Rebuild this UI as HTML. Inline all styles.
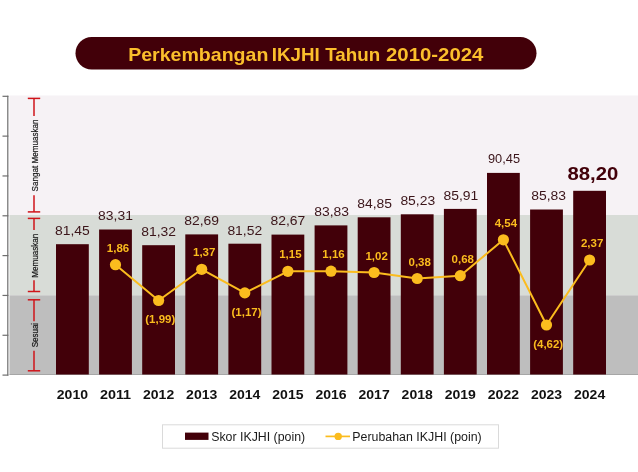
<!DOCTYPE html>
<html><head><meta charset="utf-8"><title>Perkembangan IKJHI Tahun 2010-2024</title>
<style>
html,body{margin:0;padding:0;background:#fff;}
body{width:638px;height:472px;overflow:hidden;}
svg{display:block;font-family:"Liberation Sans",sans-serif;}
</style></head><body>
<svg width="638" height="472" viewBox="0 0 638 472">
<rect width="638" height="472" fill="#ffffff"/>
<rect x="75.5" y="37" width="461" height="32.4" rx="16.2" fill="#420009"/>
<g font-size="19" font-weight="bold" fill="#fbbf2c">
<text x="128.2" y="60.9" textLength="140.2" lengthAdjust="spacingAndGlyphs">Perkembangan</text>
<text x="271.8" y="60.9" textLength="48" lengthAdjust="spacingAndGlyphs">IKJHI</text>
<text x="325.2" y="60.9" textLength="55" lengthAdjust="spacingAndGlyphs">Tahun</text>
<text x="386" y="60.9" textLength="97.4" lengthAdjust="spacingAndGlyphs">2010-2024</text>
</g>
<rect x="9.5" y="95.5" width="629" height="120" fill="#f6f2f5"/>
<rect x="9.5" y="215" width="629" height="80.3" fill="#d8dcd7"/>
<rect x="9.5" y="295.3" width="629" height="79.4" fill="#bebebe"/>
<rect x="9.5" y="374" width="629" height="1" fill="#a6a6a6"/>

<g stroke="#6e6e6e" stroke-width="1.2" fill="none">
<line x1="7.8" y1="95.8" x2="7.8" y2="375.6"/>
<line x1="2.5" y1="96.30" x2="8.4" y2="96.30"/>
<line x1="2.5" y1="136.13" x2="8.4" y2="136.13"/>
<line x1="2.5" y1="175.96" x2="8.4" y2="175.96"/>
<line x1="2.5" y1="215.79" x2="8.4" y2="215.79"/>
<line x1="2.5" y1="255.61" x2="8.4" y2="255.61"/>
<line x1="2.5" y1="295.44" x2="8.4" y2="295.44"/>
<line x1="2.5" y1="335.27" x2="8.4" y2="335.27"/>
<line x1="2.5" y1="375.10" x2="8.4" y2="375.10"/>
</g>
<rect x="56.0" y="244.2" width="32.8" height="130.3" fill="#420009"/>
<rect x="99.1" y="229.5" width="32.8" height="145.0" fill="#420009"/>
<rect x="142.2" y="245.2" width="32.8" height="129.3" fill="#420009"/>
<rect x="185.3" y="234.4" width="32.8" height="140.1" fill="#420009"/>
<rect x="228.4" y="243.7" width="32.8" height="130.8" fill="#420009"/>
<rect x="271.5" y="234.6" width="32.8" height="139.9" fill="#420009"/>
<rect x="314.6" y="225.4" width="32.8" height="149.1" fill="#420009"/>
<rect x="357.7" y="217.3" width="32.8" height="157.2" fill="#420009"/>
<rect x="400.8" y="214.3" width="32.8" height="160.2" fill="#420009"/>
<rect x="443.9" y="208.9" width="32.8" height="165.6" fill="#420009"/>
<rect x="487.0" y="172.9" width="32.8" height="201.6" fill="#420009"/>
<rect x="530.1" y="209.5" width="32.8" height="165.0" fill="#420009"/>
<rect x="573.2" y="190.8" width="32.8" height="183.7" fill="#420009"/>
<g stroke="#cf141a" stroke-width="1.5" fill="none"><line x1="27.8" y1="98.4" x2="40.2" y2="98.4"/><line x1="27.8" y1="211.9" x2="40.2" y2="211.9"/><line x1="34" y1="98.4" x2="34" y2="115.9"/><line x1="34" y1="195.2" x2="34" y2="211.9"/></g>
<g stroke="#cf141a" stroke-width="1.5" fill="none"><line x1="27.8" y1="218.4" x2="40.2" y2="218.4"/><line x1="27.8" y1="291.5" x2="40.2" y2="291.5"/><line x1="34" y1="218.4" x2="34" y2="230.0"/><line x1="34" y1="280.3" x2="34" y2="291.5"/></g>
<g stroke="#cf141a" stroke-width="1.5" fill="none"><line x1="27.8" y1="299.8" x2="40.2" y2="299.8"/><line x1="27.8" y1="370.8" x2="40.2" y2="370.8"/><line x1="34" y1="299.8" x2="34" y2="321.2"/><line x1="34" y1="350.8" x2="34" y2="370.8"/></g>
<text transform="translate(37.6,155.5) rotate(-90)" font-size="8.8" fill="#151515" stroke="#151515" stroke-width="0.2" text-anchor="middle" textLength="72" lengthAdjust="spacingAndGlyphs">Sangat Memuaskan</text>
<text transform="translate(37.6,255.7) rotate(-90)" font-size="8.8" fill="#151515" stroke="#151515" stroke-width="0.2" text-anchor="middle" textLength="44" lengthAdjust="spacingAndGlyphs">Memuaskan</text>
<text transform="translate(37.6,335.1) rotate(-90)" font-size="8.8" fill="#151515" stroke="#151515" stroke-width="0.2" text-anchor="middle" textLength="24.4" lengthAdjust="spacingAndGlyphs">Sesuai</text>
<polyline fill="none" stroke="#fbbc1e" stroke-width="2" stroke-linejoin="round" points="115.5,264.7 158.6,300.5 201.7,269.3 244.8,292.9 287.9,271.3 331.0,271.2 374.1,272.5 417.2,278.5 460.3,275.7 503.4,239.8 546.5,325.0 589.6,260.0"/>
<circle cx="115.5" cy="264.7" r="5.6" fill="#fbbc1e"/>
<circle cx="158.6" cy="300.5" r="5.6" fill="#fbbc1e"/>
<circle cx="201.7" cy="269.3" r="5.6" fill="#fbbc1e"/>
<circle cx="244.8" cy="292.9" r="5.6" fill="#fbbc1e"/>
<circle cx="287.9" cy="271.3" r="5.6" fill="#fbbc1e"/>
<circle cx="331.0" cy="271.2" r="5.6" fill="#fbbc1e"/>
<circle cx="374.1" cy="272.5" r="5.6" fill="#fbbc1e"/>
<circle cx="417.2" cy="278.5" r="5.6" fill="#fbbc1e"/>
<circle cx="460.3" cy="275.7" r="5.6" fill="#fbbc1e"/>
<circle cx="503.4" cy="239.8" r="5.6" fill="#fbbc1e"/>
<circle cx="546.5" cy="325.0" r="5.6" fill="#fbbc1e"/>
<circle cx="589.6" cy="260.0" r="5.6" fill="#fbbc1e"/>
<text x="72.4" y="235.0" font-size="13.7" fill="#3b151a" text-anchor="middle" textLength="34.8" lengthAdjust="spacingAndGlyphs">81,45</text>
<text x="115.5" y="220.3" font-size="13.7" fill="#3b151a" text-anchor="middle" textLength="34.8" lengthAdjust="spacingAndGlyphs">83,31</text>
<text x="158.6" y="236.0" font-size="13.7" fill="#3b151a" text-anchor="middle" textLength="34.8" lengthAdjust="spacingAndGlyphs">81,32</text>
<text x="201.7" y="225.2" font-size="13.7" fill="#3b151a" text-anchor="middle" textLength="34.8" lengthAdjust="spacingAndGlyphs">82,69</text>
<text x="244.8" y="234.5" font-size="13.7" fill="#3b151a" text-anchor="middle" textLength="34.8" lengthAdjust="spacingAndGlyphs">81,52</text>
<text x="287.9" y="225.4" font-size="13.7" fill="#3b151a" text-anchor="middle" textLength="34.8" lengthAdjust="spacingAndGlyphs">82,67</text>
<text x="331.6" y="216.2" font-size="13.7" fill="#3b151a" text-anchor="middle" textLength="34.8" lengthAdjust="spacingAndGlyphs">83,83</text>
<text x="374.7" y="208.1" font-size="13.7" fill="#3b151a" text-anchor="middle" textLength="34.8" lengthAdjust="spacingAndGlyphs">84,85</text>
<text x="417.8" y="205.1" font-size="13.7" fill="#3b151a" text-anchor="middle" textLength="34.8" lengthAdjust="spacingAndGlyphs">85,23</text>
<text x="460.9" y="199.7" font-size="13.7" fill="#3b151a" text-anchor="middle" textLength="34.8" lengthAdjust="spacingAndGlyphs">85,91</text>
<text x="504.0" y="163.4" font-size="12.7" fill="#3b151a" text-anchor="middle" textLength="32.0" lengthAdjust="spacingAndGlyphs">90,45</text>
<text x="548.6" y="200.3" font-size="13.7" fill="#3b151a" text-anchor="middle" textLength="34.8" lengthAdjust="spacingAndGlyphs">85,83</text>
<text x="592.9" y="179.6" font-size="17.8" font-weight="bold" fill="#420009" text-anchor="middle" textLength="50.8" lengthAdjust="spacingAndGlyphs">88,20</text>
<text x="118.0" y="251.7" font-size="11" font-weight="bold" fill="#fbbc1e" text-anchor="middle" textLength="22.4" lengthAdjust="spacingAndGlyphs">1,86</text>
<text x="160.3" y="323.2" font-size="11" font-weight="bold" fill="#fbbc1e" text-anchor="middle" textLength="30" lengthAdjust="spacingAndGlyphs">(1,99)</text>
<text x="204.2" y="256.3" font-size="11" font-weight="bold" fill="#fbbc1e" text-anchor="middle" textLength="22.4" lengthAdjust="spacingAndGlyphs">1,37</text>
<text x="246.5" y="315.6" font-size="11" font-weight="bold" fill="#fbbc1e" text-anchor="middle" textLength="30" lengthAdjust="spacingAndGlyphs">(1,17)</text>
<text x="290.4" y="258.3" font-size="11" font-weight="bold" fill="#fbbc1e" text-anchor="middle" textLength="22.4" lengthAdjust="spacingAndGlyphs">1,15</text>
<text x="333.5" y="258.2" font-size="11" font-weight="bold" fill="#fbbc1e" text-anchor="middle" textLength="22.4" lengthAdjust="spacingAndGlyphs">1,16</text>
<text x="376.6" y="259.5" font-size="11" font-weight="bold" fill="#fbbc1e" text-anchor="middle" textLength="22.4" lengthAdjust="spacingAndGlyphs">1,02</text>
<text x="419.7" y="265.5" font-size="11" font-weight="bold" fill="#fbbc1e" text-anchor="middle" textLength="22.4" lengthAdjust="spacingAndGlyphs">0,38</text>
<text x="462.8" y="262.7" font-size="11" font-weight="bold" fill="#fbbc1e" text-anchor="middle" textLength="22.4" lengthAdjust="spacingAndGlyphs">0,68</text>
<text x="505.9" y="226.8" font-size="11" font-weight="bold" fill="#fbbc1e" text-anchor="middle" textLength="22.4" lengthAdjust="spacingAndGlyphs">4,54</text>
<text x="548.2" y="347.7" font-size="11" font-weight="bold" fill="#fbbc1e" text-anchor="middle" textLength="30" lengthAdjust="spacingAndGlyphs">(4,62)</text>
<text x="592.1" y="247.0" font-size="11" font-weight="bold" fill="#fbbc1e" text-anchor="middle" textLength="22.4" lengthAdjust="spacingAndGlyphs">2,37</text>
<text x="72.4" y="398.8" font-size="13" font-weight="bold" fill="#111111" text-anchor="middle" textLength="31.2" lengthAdjust="spacingAndGlyphs">2010</text>
<text x="115.5" y="398.8" font-size="13" font-weight="bold" fill="#111111" text-anchor="middle" textLength="31.2" lengthAdjust="spacingAndGlyphs">2011</text>
<text x="158.6" y="398.8" font-size="13" font-weight="bold" fill="#111111" text-anchor="middle" textLength="31.2" lengthAdjust="spacingAndGlyphs">2012</text>
<text x="201.7" y="398.8" font-size="13" font-weight="bold" fill="#111111" text-anchor="middle" textLength="31.2" lengthAdjust="spacingAndGlyphs">2013</text>
<text x="244.8" y="398.8" font-size="13" font-weight="bold" fill="#111111" text-anchor="middle" textLength="31.2" lengthAdjust="spacingAndGlyphs">2014</text>
<text x="287.9" y="398.8" font-size="13" font-weight="bold" fill="#111111" text-anchor="middle" textLength="31.2" lengthAdjust="spacingAndGlyphs">2015</text>
<text x="331.0" y="398.8" font-size="13" font-weight="bold" fill="#111111" text-anchor="middle" textLength="31.2" lengthAdjust="spacingAndGlyphs">2016</text>
<text x="374.1" y="398.8" font-size="13" font-weight="bold" fill="#111111" text-anchor="middle" textLength="31.2" lengthAdjust="spacingAndGlyphs">2017</text>
<text x="417.2" y="398.8" font-size="13" font-weight="bold" fill="#111111" text-anchor="middle" textLength="31.2" lengthAdjust="spacingAndGlyphs">2018</text>
<text x="460.3" y="398.8" font-size="13" font-weight="bold" fill="#111111" text-anchor="middle" textLength="31.2" lengthAdjust="spacingAndGlyphs">2019</text>
<text x="503.4" y="398.8" font-size="13" font-weight="bold" fill="#111111" text-anchor="middle" textLength="31.2" lengthAdjust="spacingAndGlyphs">2022</text>
<text x="546.5" y="398.8" font-size="13" font-weight="bold" fill="#111111" text-anchor="middle" textLength="31.2" lengthAdjust="spacingAndGlyphs">2023</text>
<text x="589.6" y="398.8" font-size="13" font-weight="bold" fill="#111111" text-anchor="middle" textLength="31.2" lengthAdjust="spacingAndGlyphs">2024</text>
<rect x="162.5" y="424.8" width="336" height="23.4" fill="#ffffff" stroke="#dadada" stroke-width="1"/>
<rect x="185" y="432.6" width="23.5" height="7.3" fill="#420009"/>
<text x="211.2" y="441" font-size="13.7" fill="#1a1a1a" textLength="94" lengthAdjust="spacingAndGlyphs">Skor IKJHI (poin)</text>
<line x1="325.5" y1="436.4" x2="350" y2="436.4" stroke="#fbbc1e" stroke-width="1.7"/>
<circle cx="338.2" cy="436.4" r="3.7" fill="#fbbc1e"/>
<text x="352.3" y="441" font-size="13.7" fill="#1a1a1a" textLength="129.4" lengthAdjust="spacingAndGlyphs">Perubahan IKJHI (poin)</text>
</svg></body></html>
